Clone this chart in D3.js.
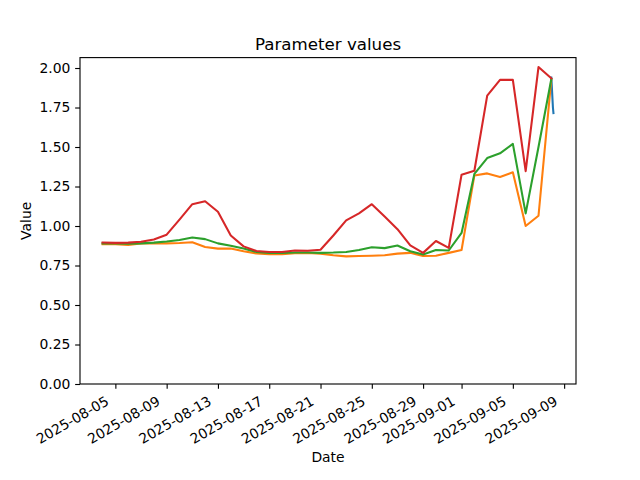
<!DOCTYPE html>
<html>
<head>
<meta charset="utf-8">
<script src="https://cdn.jsdelivr.net/npm/d3@7"></script>
<style>
  html, body { margin: 0; padding: 0; background: #fff; }
  svg { display: block; font-family: "DejaVu Sans", sans-serif; }
</style>
</head>
<body>
<svg id="chart" width="640" height="480"></svg>
<script>
// ---- data ----
const dates = ["2025-08-04","2025-08-05","2025-08-06","2025-08-07","2025-08-08","2025-08-09","2025-08-10",
  "2025-08-11","2025-08-12","2025-08-13","2025-08-14","2025-08-15","2025-08-16","2025-08-17","2025-08-18",
  "2025-08-19","2025-08-20","2025-08-21","2025-08-22","2025-08-23","2025-08-24","2025-08-25","2025-08-26",
  "2025-08-27","2025-08-28","2025-08-29","2025-08-30","2025-08-31","2025-09-01","2025-09-02","2025-09-03",
  "2025-09-04","2025-09-05","2025-09-06","2025-09-07","2025-09-08"];

const orangeValues = [0.885,0.885,0.88,0.89,0.89,0.89,0.892,0.897,0.867,0.857,0.857,0.84,0.826,0.822,0.822,
  0.828,0.83,0.825,0.815,0.808,0.81,0.812,0.815,0.825,0.83,0.81,0.812,0.83,0.848,1.32,1.333,1.31,1.34,1.00,1.065,1.93];

const greenValues = [0.89,0.89,0.888,0.89,0.895,0.902,0.912,0.927,0.917,0.89,0.875,0.857,0.836,0.83,0.83,
  0.832,0.832,0.83,0.832,0.836,0.848,0.866,0.86,0.877,0.84,0.82,0.848,0.845,0.956,1.33,1.43,1.46,1.52,1.08,1.50,1.93];

const redValues = [0.895,0.893,0.895,0.90,0.915,0.945,1.04,1.138,1.157,1.09,0.94,0.871,0.842,0.836,0.835,
  0.845,0.843,0.85,0.94,1.036,1.08,1.138,1.06,0.98,0.877,0.83,0.905,0.862,1.325,1.35,1.825,1.925,1.925,1.347,2.006,1.935];

const blueTimes = ["2025-09-08T00:00","2025-09-08T01:00","2025-09-08T02:00","2025-09-08T03:00","2025-09-08T04:00"];
const blueValues = [1.94,1.88,1.815,1.75,1.715];

const xTickLabels = ["2025-08-05","2025-08-09","2025-08-13","2025-08-17","2025-08-21","2025-08-25",
  "2025-08-29","2025-09-01","2025-09-05","2025-09-09"];
const yTickValues = [0.00,0.25,0.50,0.75,1.00,1.25,1.50,1.75,2.00];

const titleText = "Parameter values";
const xLabelText = "Date";
const yLabelText = "Value";

// ---- layout ----
const W = 640, H = 480;
const m = {left: 80, right: 576, top: 57.6, bottom: 384};
const parse = s => new Date(s.length > 10 ? s + ":00Z" : s + "T00:00:00Z");

const series = [
  {color: "#1f77b4", pts: blueTimes.map((t,i) => [parse(t), blueValues[i]])},
  {color: "#ff7f0e", pts: dates.map((t,i) => [parse(t), orangeValues[i]])},
  {color: "#2ca02c", pts: dates.map((t,i) => [parse(t), greenValues[i]])},
  {color: "#d62728", pts: dates.map((t,i) => [parse(t), redValues[i]])}
];

const allPts = series.flatMap(s => s.pts);
const xmin = d3.min(allPts, p => +p[0]), xmax = d3.max(allPts, p => +p[0]);
const xpad = (xmax - xmin) * 0.05;
const ymin = d3.min(allPts, p => p[1]), ymax = d3.max(allPts, p => p[1]);
const ytop = ymax + (ymax - ymin) * 0.05;

const x = d3.scaleUtc().domain([new Date(xmin - xpad), new Date(xmax + xpad)]).range([m.left, m.right]);
const y = d3.scaleLinear().domain([0, ytop]).range([m.bottom, m.top]);

const svg = d3.select("#chart");
svg.append("rect").attr("width", W).attr("height", H).attr("fill", "#fff");

// lines
const line = d3.line().x(p => x(p[0])).y(p => y(p[1]));
const gLines = svg.append("g");
series.forEach(s => {
  gLines.append("path").datum(s.pts)
    .attr("d", line)
    .attr("fill", "none")
    .attr("stroke", s.color)
    .attr("stroke-width", 2.08)
    .attr("stroke-linejoin", "round")
    .attr("stroke-linecap", "square");
});

// axes
const fs = 13.9;
const xAxis = d3.axisBottom(x)
  .tickValues(xTickLabels.map(parse))
  .tickSize(4.86).tickSizeOuter(0)
  .tickFormat(d3.utcFormat("%Y-%m-%d"));
const gx = svg.append("g").attr("transform", `translate(0,${m.bottom})`).call(xAxis);
gx.select(".domain").remove();
gx.selectAll(".tick line").attr("stroke", "#000").attr("stroke-width", 1.11);
gx.selectAll(".tick text")
  .attr("font-size", fs).attr("fill", "#000")
  .attr("font-family", "DejaVu Sans")
  .attr("text-anchor", "end")
  .attr("y", 0).attr("dy", null)
  .attr("transform", "translate(-6,20) rotate(-30)");

const yAxis = d3.axisLeft(y)
  .tickValues(yTickValues)
  .tickSize(4.86).tickSizeOuter(0)
  .tickFormat(d3.format(".2f"));
const gy = svg.append("g").attr("transform", `translate(${m.left},0)`).call(yAxis);
gy.select(".domain").remove();
gy.selectAll(".tick line").attr("stroke", "#000").attr("stroke-width", 1.11);
gy.selectAll(".tick text")
  .attr("font-size", fs).attr("fill", "#000")
  .attr("font-family", "DejaVu Sans")
  .attr("x", -9.7).attr("dy", "0.32em");

// frame
svg.append("rect")
  .attr("x", m.left).attr("y", m.top)
  .attr("width", m.right - m.left).attr("height", m.bottom - m.top)
  .attr("fill", "none").attr("stroke", "#000").attr("stroke-width", 1.11);

// labels
svg.append("text").attr("x", (m.left + m.right) / 2).attr("y", 49.5)
  .attr("text-anchor", "middle").attr("font-size", 16.67).attr("fill", "#000").text(titleText);
svg.append("text").attr("x", (m.left + m.right) / 2).attr("y", 462)
  .attr("text-anchor", "middle").attr("font-size", fs).attr("fill", "#000").text(xLabelText);
svg.append("text")
  .attr("transform", `translate(31,${(m.top + m.bottom) / 2}) rotate(-90)`)
  .attr("text-anchor", "middle").attr("font-size", fs).attr("fill", "#000").text(yLabelText);
</script>
</body>
</html>
